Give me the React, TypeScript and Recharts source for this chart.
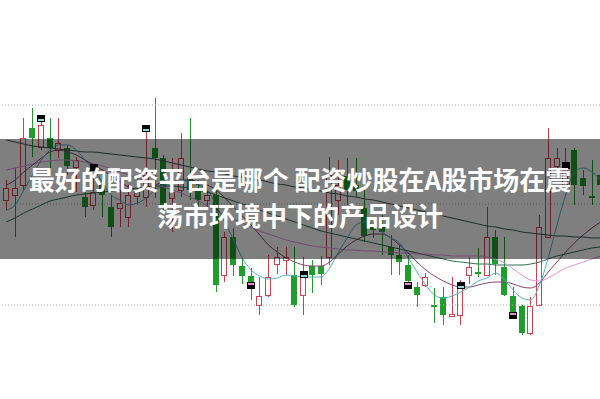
import React from 'react';
import { ComposedChart, Bar, Line, Scatter, XAxis, YAxis, ReferenceLine } from 'recharts';

// daily bars, prices
const opens = [20.0, 20.5, 21.5, 27.2, 25.3, 26.2, 25.0, 25.2, 23.3, 20.3, 19.5, 21.5, 19.3, 19.2, 18.3, 20.4, 20.3, 25.2, 24.2, 20.2, 21.0, 22.5, 21.0, 20.0, 20.5, 12.5, 16.3, 13.4, 12.4, 9.5, 10.5, 13.6, 14.0, 12.5, 10.5, 13.4, 13.4, 14.3, 20.0, 22.4, 21.5, 19.2, 17.5, 17.3, 15.3, 14.5, 13.5, 11.3, 11.5, 9.5, 10.3, 8.4, 8.5, 12.5, 12.8, 12.5, 16.3, 13.3, 10.4, 9.4, 6.7, 9.5, 16.3, 23.4, 21.5, 25.0, 22.2, 20.4, 22.5];
const closes = [21.2, 21.2, 26.2, 26.2, 27.5, 25.2, 25.7, 23.4, 24.0, 19.3, 20.8, 20.5, 17.3, 19.7, 20.5, 21.0, 22.5, 24.2, 19.5, 20.8, 24.2, 21.0, 20.0, 20.5, 11.5, 16.3, 13.5, 12.4, 11.8, 10.4, 12.3, 14.3, 14.3, 9.5, 12.3, 12.5, 12.6, 22.5, 21.5, 21.0, 20.9, 16.4, 17.0, 16.8, 14.5, 13.8, 11.9, 10.5, 12.3, 9.3, 8.5, 8.6, 11.2, 13.3, 12.6, 16.3, 13.6, 10.5, 8.8, 6.7, 9.4, 17.3, 24.2, 24.2, 23.0, 21.5, 21.4, 20.2, 21.5];
const highs = [22.0, 23.2, 28.2, 29.2, 27.8, 28.2, 28.2, 25.5, 24.3, 20.8, 22.5, 22.5, 20.5, 22.2, 21.5, 22.5, 26.8, 30.2, 24.5, 24.2, 26.7, 28.2, 22.0, 21.0, 21.5, 16.8, 17.2, 14.2, 13.2, 12.3, 14.5, 15.3, 15.3, 15.3, 14.3, 14.0, 14.4, 24.3, 24.0, 24.2, 24.2, 21.2, 17.8, 18.5, 16.5, 15.5, 14.5, 11.8, 12.7, 11.2, 11.3, 12.3, 12.0, 14.3, 15.2, 19.3, 17.0, 16.3, 11.3, 9.5, 10.3, 18.5, 27.2, 25.2, 25.2, 25.2, 23.0, 24.0, 23.8];
const lows = [19.0, 16.3, 21.0, 24.3, 25.0, 23.0, 24.2, 22.5, 20.8, 18.3, 19.0, 18.3, 16.3, 17.3, 17.3, 19.5, 19.3, 20.2, 19.0, 16.8, 20.3, 20.0, 19.3, 19.0, 10.8, 11.8, 12.4, 11.6, 10.0, 8.5, 10.3, 12.6, 12.5, 9.3, 8.5, 10.7, 11.5, 13.5, 18.5, 19.5, 20.3, 15.8, 16.2, 14.5, 12.5, 12.5, 11.2, 9.3, 11.3, 7.7, 7.5, 8.3, 7.5, 11.6, 12.3, 12.4, 12.5, 10.4, 8.2, 6.5, 6.5, 9.4, 16.2, 22.2, 21.2, 19.5, 20.5, 19.5, 20.0];

// moving averages
const ma5 = [19.0, 19.5, 21.0, 22.5, 24.0, 25.0, 25.5, 25.5, 25.0, 24.0, 23.0, 21.8, 20.5, 20.0, 19.5, 19.7, 20.2, 21.0, 21.5, 21.7, 22.0, 21.8, 21.5, 21.0, 19.5, 17.8, 16.0, 14.2, 13.0, 12.4, 12.1, 12.2, 12.5, 12.4, 12.3, 12.3, 12.3, 13.2, 14.8, 16.2, 17.5, 17.8, 17.5, 16.8, 16.2, 15.7, 14.2, 12.8, 11.5, 10.5, 10.2, 10.4, 10.8, 11.3, 11.9, 12.2, 12.7, 12.0, 11.0, 10.2, 10.0, 11.5, 14.2, 17.5, 20.5, 22.8, 23.2, 22.8, 22.0];
const ma10 = [21.5, 22.0, 22.8, 23.5, 24.2, 24.8, 25.0, 24.8, 24.5, 24.0, 23.5, 23.0, 22.4, 21.8, 21.3, 21.0, 21.2, 21.5, 21.8, 21.9, 22.0, 22.0, 21.8, 21.5, 21.0, 20.2, 19.3, 18.4, 17.5, 16.5, 15.5, 14.8, 14.2, 13.8, 13.5, 13.4, 13.4, 13.8, 14.6, 15.4, 16.0, 16.4, 16.6, 16.6, 16.2, 15.5, 14.7, 13.8, 13.0, 12.4, 11.9, 11.5, 11.3, 11.3, 11.5, 11.7, 11.8, 11.8, 11.6, 11.3, 11.2, 11.7, 12.8, 13.8, 14.8, 15.7, 16.5, 17.2, 17.8];
const ma20 = [23.0, 23.2, 23.4, 23.6, 23.8, 23.9, 24.0, 24.0, 23.9, 23.8, 23.6, 23.4, 23.1, 22.8, 22.5, 22.2, 21.9, 21.6, 21.3, 21.0, 20.7, 20.3, 19.9, 19.4, 18.9, 18.5, 18.1, 17.7, 17.3, 16.9, 16.6, 16.3, 16.0, 15.8, 15.6, 15.4, 15.3, 15.2, 15.1, 15.0, 15.0, 14.9, 14.9, 14.8, 14.8, 14.7, 14.7, 14.6, 14.6, 14.5, 14.5, 14.4, 14.4, 14.4, 14.4, 14.3, 14.1, 13.7, 13.1, 12.5, 12.0, 11.9, 12.2, 12.7, 13.2, 13.5, 13.8, 14.1, 14.4];
const ma30 = [17.8, 18.2, 18.7, 19.1, 19.5, 19.9, 20.1, 20.3, 20.5, 20.6, 20.7, 20.8, 20.9, 21.0, 21.1, 21.2, 21.3, 21.4, 21.4, 21.4, 21.3, 21.2, 21.0, 20.8, 20.5, 20.2, 19.9, 19.6, 19.3, 19.0, 18.7, 18.4, 18.1, 17.8, 17.5, 17.2, 16.9, 16.7, 16.5, 16.3, 16.1, 15.9, 15.7, 15.5, 15.3, 15.1, 14.9, 14.7, 14.5, 14.3, 14.1, 13.9, 13.8, 13.7, 13.6, 13.6, 13.5, 13.5, 13.5, 13.5, 13.6, 13.8, 14.1, 14.4, 14.6, 14.8, 15.0, 15.2, 15.3];
const ma60 = [26.0, 25.8, 25.6, 25.4, 25.3, 25.2, 25.1, 25.0, 24.9, 24.8, 24.8, 24.7, 24.6, 24.5, 24.4, 24.3, 24.2, 24.1, 23.9, 23.7, 23.5, 23.3, 23.1, 22.9, 22.8, 22.6, 22.4, 22.3, 22.1, 22.0, 21.8, 21.6, 21.5, 21.3, 21.2, 21.0, 20.9, 20.7, 20.6, 20.4, 20.3, 20.1, 20.0, 19.8, 19.6, 19.4, 19.2, 19.0, 18.8, 18.6, 18.4, 18.2, 18.0, 17.8, 17.6, 17.4, 17.3, 17.1, 17.0, 16.8, 16.7, 16.6, 16.5, 16.4, 16.4, 16.3, 16.3, 16.2, 16.2];

// signal flags: bar index, price level, tone
const signalIdx = [4, 10, 16, 28, 34, 46, 52, 58, 64];
const signalAt = [28.2, 23.3, 27.2, 11.5, 12.6, 11.5, 11.5, 8.5, 23.5];
const signalTone = ['c', 'k', 'c', 'p', 'c', 'p', 'c', 'p', 'k'];

const gridLevels = [29.5, 19.6, 9.5];

const title1 = '最好的配资平台是哪个 配资炒股在A股市场在震';
const title2 = '荡市环境中下的产品设计';

const RED = '#d4404c';
const GREEN = '#1f9e2c';

const data = opens.map((o, i) => {
  const s = signalIdx.indexOf(i);
  return {
    day: 'D' + (i + 1),
    open: o,
    close: closes[i],
    high: highs[i],
    low: lows[i],
    ma5: ma5[i],
    ma10: ma10[i],
    ma20: ma20[i],
    ma30: ma30[i],
    ma60: ma60[i],
    signal: s >= 0 ? signalAt[s] : null,
    tone: s >= 0 ? signalTone[s] : null,
  };
});

function Candle(props: any) {
  const { x, y, width, height, payload } = props;
  if (!payload) return null;
  const { open, close, high, low } = payload;
  const top = Math.min(y, y + height);
  const h = Math.abs(height);
  const k = h / (high - low);
  const yOf = (v: number) => top + (high - v) * k;
  const up = close >= open;
  const color = up ? RED : GREEN;
  const cx = Math.round(x + width / 2) + 0.5;
  const bTop = Math.round(yOf(Math.max(open, close)));
  const bBot = Math.round(yOf(Math.min(open, close)));
  const bh = Math.max(1, bBot - bTop);
  return (
    <g>
      <line x1={cx} x2={cx} y1={top} y2={top + h} stroke={color} strokeWidth={1} />
      {up ? (
        <rect x={Math.round(x) + 0.5} y={bTop + 0.5} width={width - 1} height={bh} fill="#fff" stroke={color} strokeWidth={1} />
      ) : (
        <rect x={Math.round(x)} y={bTop} width={width} height={bh} fill={color} />
      )}
    </g>
  );
}

function Flag(props: any) {
  const { cx, cy, payload } = props;
  if (!payload || payload.signal == null) return <g />;
  const inner = payload.tone === 'p' ? '#e58ad8' : payload.tone === 'c' ? '#8fd8e0' : '#000';
  const x = Math.round(cx) - 4;
  const y = Math.round(cy) - 3;
  return (
    <g>
      <rect x={x} y={y} width={8} height={7} fill="#000" />
      <rect x={x + 1} y={payload.tone === 'p' ? y + 1 : y + 4} width={6} height={2} fill={inner} />
    </g>
  );
}

export default function App() {
  return (
    <div style={{ position: 'absolute', left: 0, top: 0, width: 600, height: 399, overflow: 'hidden', background: '#fff' }}>
      <ComposedChart width={605} height={399} data={data} margin={{ top: 0, right: 0, bottom: 0, left: 2 }}>
        <XAxis dataKey="day" hide />
        <YAxis hide domain={[0.1, 40]} />
        {gridLevels.map((g) => (
          <ReferenceLine key={g} y={g} stroke="#a9a9a9" strokeDasharray="1 2" />
        ))}
        <Bar dataKey={(d: any) => [d.low, d.high]} barSize={6} shape={<Candle />} isAnimationActive={false} />
        <Line type="monotone" dataKey="ma60" stroke="#3e5252" strokeWidth={1} dot={false} isAnimationActive={false} />
        <Line type="monotone" dataKey="ma30" stroke="#2f6e4e" strokeWidth={1} dot={false} isAnimationActive={false} />
        <Line type="monotone" dataKey="ma20" stroke="#e592e2" strokeWidth={1} dot={false} isAnimationActive={false} />
        <Line type="monotone" dataKey="ma10" stroke="#8a4478" strokeWidth={1} dot={false} isAnimationActive={false} />
        <Line type="monotone" dataKey="ma5" stroke="#52b2c6" strokeWidth={1} dot={false} isAnimationActive={false} />
        <Scatter dataKey="signal" shape={<Flag />} isAnimationActive={false} />
      </ComposedChart>
      <div
        style={{
          position: 'absolute',
          left: 0,
          top: 139,
          width: 600,
          height: 120,
          background: 'rgba(0,0,0,0.5)',
          color: '#fff',
          fontFamily: '"Noto Sans CJK SC", "Noto Sans", sans-serif',
          fontWeight: 700,
          fontSize: 26,
          lineHeight: '36px',
          textAlign: 'center',
          paddingTop: 22,
          boxSizing: 'border-box',
        }}
      >
        <div>{title1}</div>
        <div>{title2}</div>
      </div>
    </div>
  );
}
